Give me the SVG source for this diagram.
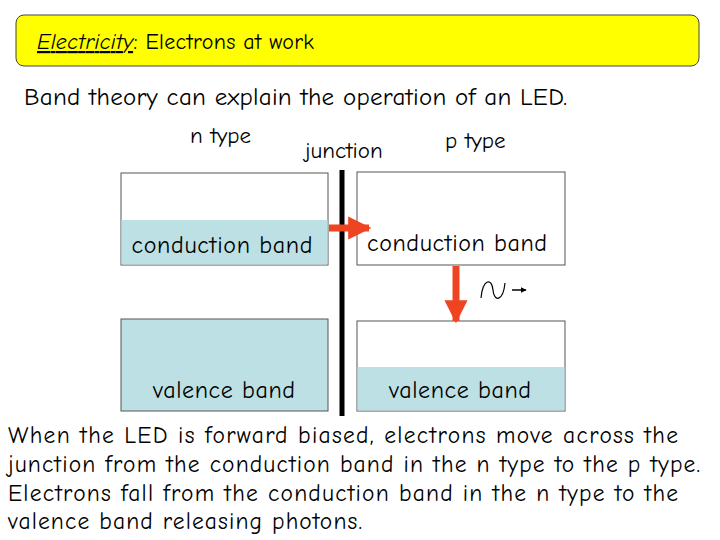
<svg xmlns="http://www.w3.org/2000/svg" width="720" height="540" viewBox="0 0 720 540">
<style>
text{font-family:"Comic Neue","Liberation Sans",sans-serif;fill:#000}
.b{stroke:#555;stroke-width:1;fill:#fff}
.f{fill:#bde0e5}
.l{font-size:24px;text-anchor:middle}
.t{font-size:23.5px}
</style>
<defs>
<marker id="ra" viewBox="0 0 10 10" refX="9" refY="5" markerWidth="3.3" markerHeight="3.3" orient="auto" markerUnits="strokeWidth"><path d="M0,0L10,5L0,10z" fill="#ee4422"/></marker>
<marker id="ka" viewBox="0 0 10 10" refX="9" refY="5" markerWidth="4" markerHeight="4" orient="auto" markerUnits="strokeWidth"><path d="M0,0L10,5L0,10z" fill="#000"/></marker>
</defs>
<g id="title"><rect x="16" y="15" width="683" height="51" rx="8" fill="#ffff00" stroke="#444"/>
<text x="37" y="49" font-size="22" textLength="277"><tspan font-style="italic" text-decoration="underline">Electricity</tspan>: Electrons at work</text></g>
<text x="24" y="105" font-size="25" textLength="543">Band theory can explain the operation of an LED.</text>
<text x="190" y="143" font-size="23">n type</text>
<text x="305" y="158" font-size="23">junction</text>
<text x="445" y="148" font-size="23">p type</text>
<g id="n-conduction"><rect class="b" x="121" y="173" width="207" height="92"/><rect class="f" x="121.5" y="220" width="206" height="44.5"/><text class="l" x="222" y="253" textLength="181">conduction band</text></g>
<g id="n-valence"><rect class="b f" x="121" y="319" width="207" height="92" style="fill:#bde0e5"/><text class="l" x="224" y="398" textLength="142">valence band</text></g>
<g id="p-conduction"><rect class="b" x="357" y="172" width="208" height="93"/><text class="l" x="457" y="251" textLength="180">conduction band</text></g>
<g id="p-valence"><rect class="b" x="357" y="321" width="208" height="90"/><rect class="f" x="357.5" y="367" width="207" height="43.5"/><text class="l" x="460" y="398" textLength="142">valence band</text></g>
<g id="connectors">
<line x1="342" y1="170" x2="342" y2="416" stroke="#000" stroke-width="5"/>
<line x1="329" y1="228" x2="369" y2="228" stroke="#ee4422" stroke-width="7" marker-end="url(#ra)"/>
<line x1="456" y1="266" x2="456" y2="321" stroke="#ee4422" stroke-width="7" marker-end="url(#ra)"/>
<path d="M481,298 C483,278 492,278 493,290 C494,302 503,302 505,283" fill="none" stroke="#000" stroke-width="1.2"/>
<line x1="512" y1="290" x2="526" y2="290" stroke="#000" stroke-width="1.5" marker-end="url(#ka)"/>
</g>
<text class="t" x="8" y="443" textLength="670">When the LED is forward biased, electrons move across the</text>
<text class="t" x="8" y="472" textLength="692">junction from the conduction band in the n type to the p type.</text>
<text class="t" x="8" y="501" textLength="670">Electrons fall from the conduction band in the n type to the</text>
<text class="t" x="8" y="529" textLength="354">valence band releasing  photons.</text>
</svg>
